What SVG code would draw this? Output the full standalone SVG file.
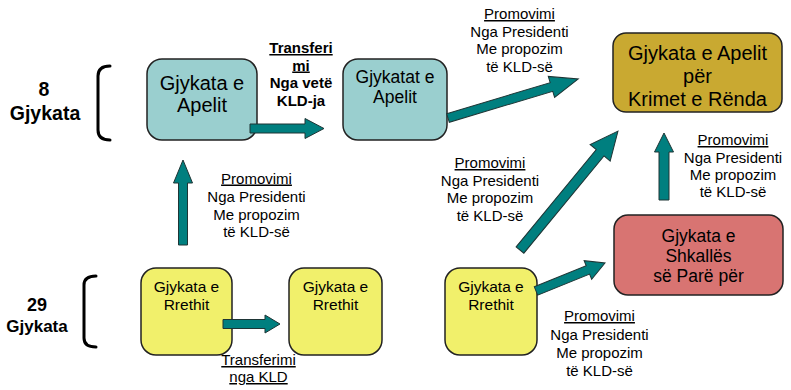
<svg xmlns="http://www.w3.org/2000/svg" width="791" height="390" viewBox="0 0 791 390">
<style>
text{font-family:"Liberation Sans",Arial,sans-serif;fill:#000;text-anchor:middle}
.box{stroke:#222;stroke-width:1.5}
.teal{fill:#9ACFCF}
.gold{fill:#C9A931}
.red{fill:#D87472}
.yel{fill:#F1F06B}
.arrow{fill:#007F7F;stroke:#1E3535;stroke-width:1}
.lbl{font-size:15px}
.u{text-decoration:underline}
.br{fill:none;stroke:#000;stroke-width:3;stroke-linecap:round}
.side{font-weight:bold}
</style>
<rect width="791" height="390" fill="#fff"/>
<g id="side-labels">
<text class="side" x="44" y="96" font-size="19.5">8</text>
<text class="side" x="45" y="120" font-size="19.5">Gjykata</text>
<path class="br" d="M110,66 Q98,66 98,76 L98,130 Q98,140 110,140"/>
<text class="side" x="37" y="311" font-size="18">29</text>
<text class="side" x="37" y="332" font-size="17">Gjykata</text>
<path class="br" d="M96,276 Q84,276 84,285 L84,338 Q84,347 96,347"/>
</g>
<g id="n-apelit">
<rect class="box teal" x="147" y="59" width="110" height="81" rx="15"/>
<text x="202" y="90" font-size="20">Gjykata e</text>
<text x="202" y="112" font-size="20">Apelit</text>
</g>
<g id="n-gjykatat-apelit">
<rect class="box teal" x="343" y="59" width="104" height="81" rx="15"/>
<text x="395" y="83" font-size="17.5">Gjykatat e</text>
<text x="395" y="103" font-size="17.5">Apelit</text>
</g>
<g id="n-krimet">
<rect class="box gold" x="613" y="33" width="169" height="79" rx="13"/>
<text x="697.5" y="60" font-size="20">Gjykata e Apelit</text>
<text x="697.5" y="83" font-size="20">për</text>
<text x="697.5" y="106" font-size="20">Krimet e Rënda</text>
</g>
<g id="n-shkalles">
<rect class="box red" x="614" y="215" width="169" height="80" rx="14"/>
<text x="698.5" y="242" font-size="17.5">Gjykata e</text>
<text x="698.5" y="262" font-size="17.5">Shkallës</text>
<text x="698.5" y="282" font-size="17.5">së Parë për</text>
</g>
<g id="n-rrethit1">
<rect class="box yel" x="141" y="268" width="91" height="87" rx="15"/>
<text x="186.5" y="291.5" font-size="15.5">Gjykata e</text>
<text x="186.5" y="310" font-size="15.5">Rrethit</text>
</g>
<g id="n-rrethit2">
<rect class="box yel" x="289" y="268" width="93" height="87" rx="15"/>
<text x="335.5" y="291.5" font-size="15.5">Gjykata e</text>
<text x="335.5" y="310" font-size="15.5">Rrethit</text>
</g>
<g id="n-rrethit3">
<rect class="box yel" x="445" y="268" width="92" height="87" rx="15"/>
<text x="491" y="291.5" font-size="15.5">Gjykata e</text>
<text x="491" y="310" font-size="15.5">Rrethit</text>
</g>
<g id="connectors">
<polygon class="arrow" transform="translate(250,128.5)" points="0,-4.5 55,-4.5 55,-10 74,0 55,10 55,4.5 0,4.5"/>
<polygon class="arrow" transform="translate(448,118) rotate(-16.7)" points="0,-4.5 108,-4.5 108,-11 136,0 108,11 108,4.5 0,4.5"/>
<polygon class="arrow" transform="translate(520,250) rotate(-50.5)" points="0,-5 126,-5 126,-13 154,0 126,13 126,5 0,5"/>
<polygon class="arrow" transform="translate(183,245) rotate(-90)" points="0,-4.5 62,-4.5 62,-9.5 85,0 62,9.5 62,4.5 0,4.5"/>
<polygon class="arrow" transform="translate(664,200) rotate(-90)" points="0,-5 48,-5 48,-9.5 67,0 48,9.5 48,5 0,5"/>
<polygon class="arrow" transform="translate(536,291) rotate(-22.1)" points="0,-4.5 56,-4.5 56,-10 74.5,0 56,10 56,4.5 0,4.5"/>
<polygon class="arrow" transform="translate(223,324)" points="0,-4.5 42,-4.5 42,-9 57,0 42,9 42,4.5 0,4.5"/>
</g>
<g id="edge-labels">
<g font-weight="bold" font-size="15">
<text class="u" x="301" y="53">Transferi</text>
<text class="u" x="301" y="70.5">mi</text>
<text x="301" y="88">Nga vetë</text>
<text x="301" y="106">KLD-ja</text>
</g>
<g class="lbl">
<text class="u" x="519.5" y="19">Promovimi</text>
<text x="519.5" y="36.5">Nga Presidenti</text>
<text x="519.5" y="54">Me propozim</text>
<text x="519.5" y="71.5">të KLD-së</text>
</g>
<g class="lbl">
<text class="u" x="733" y="145">Promovimi</text>
<text x="733" y="163">Nga Presidenti</text>
<text x="733" y="180">Me propozim</text>
<text x="733" y="197">të KLD-së</text>
</g>
<g class="lbl">
<text class="u" x="490" y="168">Promovimi</text>
<text x="490" y="185.5">Nga Presidenti</text>
<text x="490" y="203">Me propozim</text>
<text x="490" y="220.5">të KLD-së</text>
</g>
<g class="lbl">
<text class="u" x="256.5" y="183.5">Promovimi</text>
<text x="256.5" y="201.5">Nga Presidenti</text>
<text x="256.5" y="219.5">Me propozim</text>
<text x="256.5" y="237">të KLD-së</text>
</g>
<g class="lbl">
<text class="u" x="599.5" y="321">Promovimi</text>
<text x="599.5" y="339.5">Nga Presidenti</text>
<text x="599.5" y="357.5">Me propozim</text>
<text x="599.5" y="375.5">të KLD-së</text>
</g>
<g class="lbl">
<text class="u" x="258.5" y="365">Transferimi</text>
<text class="u" x="258.5" y="382">nga KLD</text>
</g>
</g>
</svg>
